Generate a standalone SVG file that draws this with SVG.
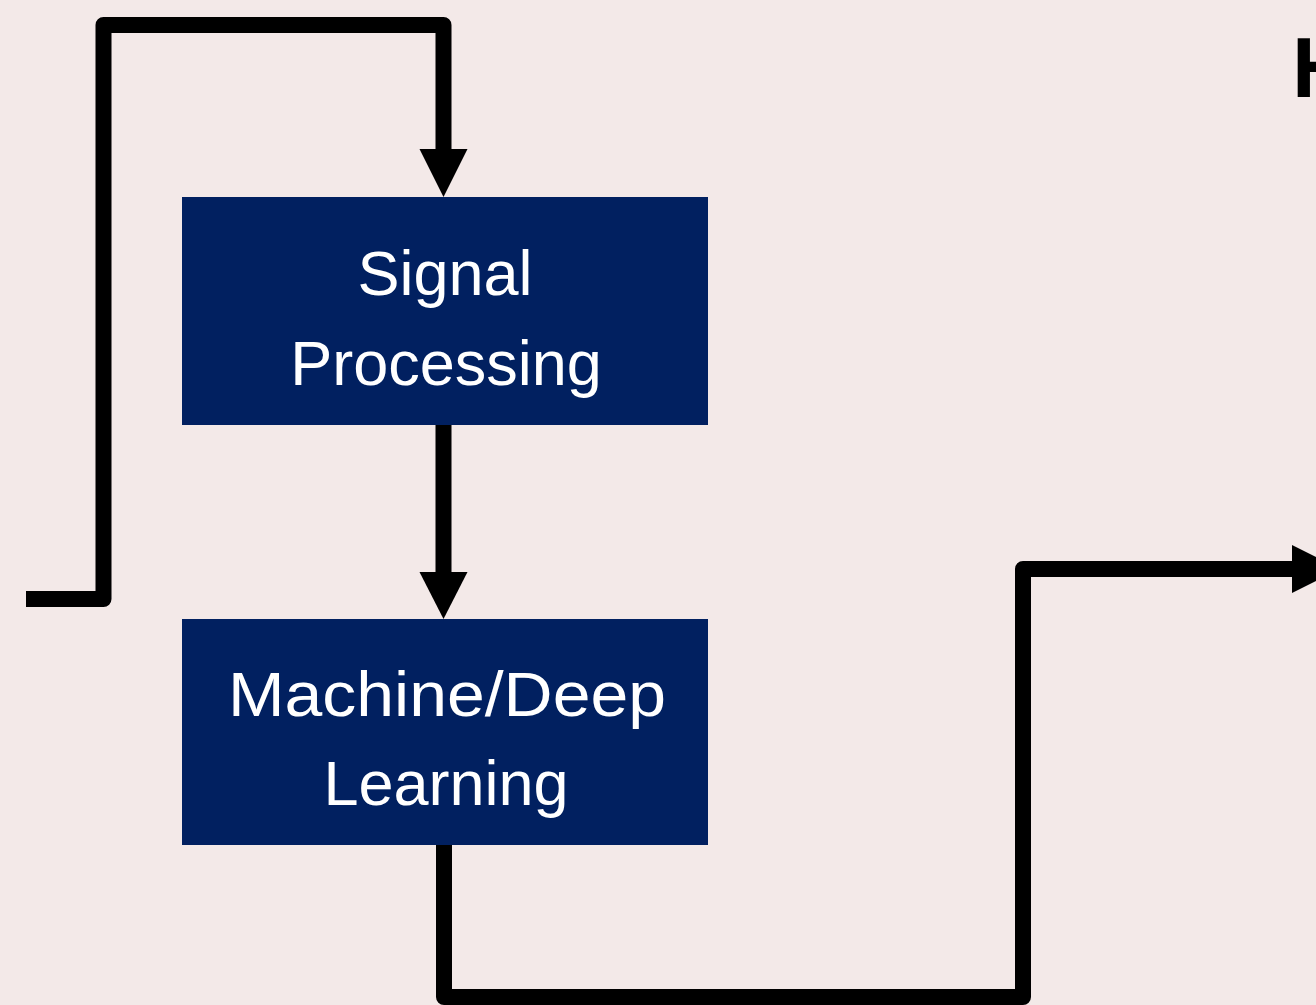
<svg xmlns="http://www.w3.org/2000/svg" width="1316" height="1005" viewBox="0 0 1316 1005">
  <style>
    .box { fill: #012060; }
    .label { fill: #ffffff; font-family: "Liberation Sans", Arial, sans-serif; font-size: 63px; text-anchor: middle; }
    .wire { fill: none; stroke: #000000; stroke-width: 16; stroke-linejoin: round; stroke-linecap: butt; }
    .head { fill: #000000; }
    .title { fill: #000000; font-family: "Liberation Sans", Arial, sans-serif; font-size: 85px; font-weight: bold; }
  </style>
  <rect x="0" y="0" width="1316" height="1005" fill="#F3E9E8"/>

  <g id="connectors">
    <!-- input loop into Signal Processing -->
    <path class="wire" d="M26 599 H103.5 V25 H443.5 V150"/>
    <polygon class="head" points="419.5,149 467.5,149 443.5,197"/>
    <!-- Signal Processing to Machine/Deep Learning -->
    <path class="wire" d="M443.5 425 V573"/>
    <polygon class="head" points="419.5,572 467.5,572 443.5,619"/>
    <!-- output path leaving Machine/Deep Learning -->
    <path class="wire" d="M444 845 V997 H1023 V569 H1293"/>
    <polygon class="head" points="1292,545 1292,593 1340,569"/>
  </g>

  <g id="signal-processing">
    <rect class="box" x="182" y="197" width="526" height="228"/>
    <text class="label" x="445" y="295">Signal</text>
    <text class="label" x="446" y="385">Processing</text>
  </g>

  <g id="machine-deep-learning">
    <rect class="box" x="182" y="619" width="526" height="226"/>
    <text class="label" x="447" y="716" textLength="438" lengthAdjust="spacingAndGlyphs">Machine/Deep</text>
    <text class="label" x="446" y="805">Learning</text>
  </g>

  <g id="heading">
    <text class="title" x="1292" y="97">H</text>
  </g>
</svg>
